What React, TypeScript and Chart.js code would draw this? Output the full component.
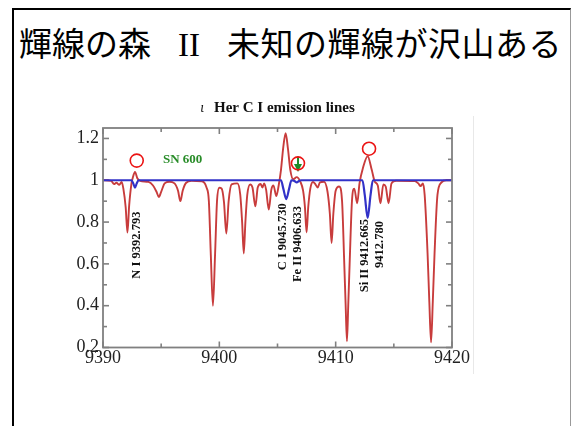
import React, { useEffect, useRef } from 'react';
import { Chart, registerables } from 'chart.js';

Chart.register(...registerables);

// ---- data ----
const slideTitleA = '輝線の森';
const slideTitleB = 'II';
const slideTitleC = '未知の輝線が沢山ある';
const chartTitleGreek = 'ι';
const chartTitle = 'Her C I emission lines';

const xMajorTicks = [9390, 9400, 9410, 9420];
const xMinorTicks = [9395, 9405, 9415];
const yMajorTicks = [0.2, 0.4, 0.6, 0.8, 1.0, 1.2];
const yTickLabels = ['0.2', '0.4', '0.6', '0.8', '1', '1.2'];
const yMinorTicks = [0.3, 0.5, 0.7, 0.9, 1.1];

// observed spectrum (red)
const redWave = [
  9390.0, 9390.7, 9390.95, 9391.15, 9391.4, 9391.6, 9391.75, 9391.95, 9392.1, 9392.25,
  9392.45, 9392.55, 9392.75, 9392.95, 9393.2, 9393.9, 9394.3, 9394.6, 9394.8, 9395.0,
  9395.3, 9395.7, 9396.15, 9396.45, 9396.65, 9396.85, 9397.15, 9397.6, 9398.5, 9398.9,
  9399.1, 9399.27, 9399.45, 9399.63, 9399.8, 9399.98, 9400.2, 9400.4, 9400.6, 9400.8,
  9401.05, 9401.55, 9401.8, 9401.96, 9402.1, 9402.24, 9402.4, 9402.65, 9402.85, 9403.1,
  9403.3, 9403.55, 9403.7, 9403.85, 9404.02, 9404.25, 9404.47, 9404.65, 9404.9, 9405.1,
  9405.3, 9405.5, 9405.7, 9405.9, 9406.1, 9406.35, 9406.65, 9406.95, 9407.2, 9407.36,
  9407.5, 9407.64, 9407.82, 9408.05, 9408.25, 9408.45, 9408.65, 9409.0, 9409.3, 9409.5,
  9409.65, 9409.8, 9410.0, 9410.3, 9410.55, 9410.74, 9410.86, 9410.97, 9411.08, 9411.2,
  9411.4, 9411.6, 9411.85, 9412.05, 9412.35, 9412.75, 9413.1, 9413.35, 9413.62, 9413.85,
  9414.1, 9414.3, 9414.55, 9414.8, 9415.2, 9416.8, 9417.1, 9417.3, 9417.5, 9417.65,
  9417.9, 9418.05, 9418.2, 9418.35, 9418.5, 9418.75, 9419.1, 9419.5, 9420.0,
];
const redFlux = [
  1.0, 0.997, 0.982, 0.988, 0.978, 0.992, 0.96, 0.87, 0.75, 0.88,
  0.985, 1.01, 1.04, 1.01, 0.997, 0.992, 0.975, 0.945, 0.92, 0.945,
  0.985, 0.993, 0.985, 0.95, 0.9, 0.95, 0.988, 0.997, 0.995, 0.965,
  0.9, 0.64, 0.4, 0.64, 0.9, 0.965, 0.96, 0.895, 0.745, 0.9,
  0.98, 0.985, 0.93, 0.8, 0.65, 0.8, 0.93, 0.98, 0.965, 0.875,
  0.965, 0.982, 0.965, 0.985, 0.955, 0.86, 0.955, 0.975, 0.925, 0.975,
  1.05, 1.16, 1.225, 1.15, 1.05, 1.005, 1.015, 0.995, 0.95, 0.87,
  0.75, 0.87, 0.96, 0.992, 0.982, 0.965, 0.99, 0.993, 0.945, 0.84,
  0.7, 0.84, 0.95, 0.97, 0.9, 0.6, 0.4, 0.23, 0.4, 0.6,
  0.9, 0.96, 0.89, 0.985, 1.06, 1.115, 1.05, 0.995, 0.975, 0.89,
  0.98, 0.97, 0.89, 0.985, 0.998, 0.996, 0.985, 0.972, 0.985, 0.93,
  0.65, 0.42, 0.225, 0.42, 0.65, 0.93, 0.99, 1.0, 1.0,
];

// model (blue)
const blueWave = [
  9390.0, 9392.45, 9392.6, 9392.75, 9392.9, 9393.05, 9405.3, 9405.5, 9405.75, 9406.0,
  9406.2, 9406.45, 9406.65, 9406.85, 9407.05, 9412.3, 9412.5, 9412.75, 9413.0, 9413.2, 9420.0,
];
const blueFlux = [
  1.0, 1.0, 0.985, 0.965, 0.985, 1.0, 1.0, 0.96, 0.91, 0.96,
  1.0, 0.997, 0.99, 0.997, 1.0, 1.0, 0.93, 0.82, 0.93, 1.0, 1.0,
];

// annotations (data coordinates)
const circleWave = [9392.9, 9406.76, 9412.87];
const circleFlux = [1.094, 1.081, 1.151];
const lineLabels = ['N I 9392.793', 'C I 9045.730', 'Fe II 9406.633', 'Si II 9412.665', '9412.780'];
const lineLabelWave = [9392.93, 9405.49, 9406.7, 9412.46, 9413.8];
const lineLabelTop = [0.85, 0.89, 0.877, 0.815, 0.805];
const snLabel = 'SN 600';
const snWave = 9395.15;
const snFlux = 1.097;
const arrowWave = 9406.76;
const arrowFrom = 1.113;
const arrowTo = 1.04;

const W = 573;
const H = 426;

const overlayPlugin = {
  id: 'overlay',
  beforeDatasetsDraw(chart: any) {
    const { ctx, chartArea: a, scales } = chart;
    const x = scales.x;
    const y = scales.y;
    ctx.save();
    ctx.strokeStyle = '#808080';
    ctx.lineWidth = 1.6;
    const seg = (x1: number, y1: number, x2: number, y2: number) => {
      ctx.beginPath();
      ctx.moveTo(x1, y1);
      ctx.lineTo(x2, y2);
      ctx.stroke();
    };
    xMajorTicks.forEach((v) => {
      const p = x.getPixelForValue(v);
      seg(p, a.bottom, p, a.bottom - 6);
      seg(p, a.top, p, a.top + 6);
    });
    xMinorTicks.forEach((v) => {
      const p = x.getPixelForValue(v);
      seg(p, a.bottom, p, a.bottom - 4);
      seg(p, a.top, p, a.top + 4);
    });
    yMajorTicks.forEach((v) => {
      const p = y.getPixelForValue(v);
      seg(a.left, p, a.left + 6, p);
      seg(a.right, p, a.right - 6, p);
    });
    yMinorTicks.forEach((v) => {
      const p = y.getPixelForValue(v);
      seg(a.left, p, a.left + 4, p);
      seg(a.right, p, a.right - 4, p);
    });
    ctx.restore();
  },
  afterDatasetsDraw(chart: any) {
    const { ctx, chartArea: a, scales } = chart;
    const x = scales.x;
    const y = scales.y;
    ctx.save();
    // frame
    ctx.strokeStyle = '#808080';
    ctx.lineWidth = 1.8;
    ctx.strokeRect(a.left, a.top, a.right - a.left, a.bottom - a.top);

    // chart title
    const cx = (a.left + a.right) / 2;
    ctx.fillStyle = '#111';
    ctx.textBaseline = 'alphabetic';
    ctx.font = 'italic 14px "Liberation Serif"';
    const w1 = ctx.measureText(chartTitleGreek).width;
    ctx.font = 'bold 15px "Liberation Serif"';
    const w2 = ctx.measureText(chartTitle).width;
    const gap = 10;
    const start = cx - (w1 + gap + w2) / 2;
    ctx.font = 'italic 14px "Liberation Serif"';
    ctx.textAlign = 'left';
    ctx.fillText(chartTitleGreek, start, 112);
    ctx.font = 'bold 15px "Liberation Serif"';
    ctx.fillText(chartTitle, start + w1 + gap, 112);

    // SN label
    ctx.fillStyle = 'rgb(40,140,40)';
    ctx.font = 'bold 13px "Liberation Serif"';
    ctx.textBaseline = 'middle';
    ctx.fillText(snLabel, x.getPixelForValue(snWave), y.getPixelForValue(snFlux));

    // rotated line labels
    ctx.fillStyle = '#111';
    ctx.font = 'bold 12.5px "Liberation Serif"';
    lineLabels.forEach((t, i) => {
      ctx.save();
      ctx.translate(x.getPixelForValue(lineLabelWave[i]), y.getPixelForValue(lineLabelTop[i]));
      ctx.rotate(-Math.PI / 2);
      ctx.textAlign = 'right';
      ctx.textBaseline = 'middle';
      ctx.fillText(t, 0, 0);
      ctx.restore();
    });

    // green arrow
    const ax = x.getPixelForValue(arrowWave);
    const ay1 = y.getPixelForValue(arrowFrom);
    const ay2 = y.getPixelForValue(arrowTo);
    ctx.strokeStyle = 'rgb(30,140,40)';
    ctx.fillStyle = 'rgb(30,140,40)';
    ctx.lineWidth = 2;
    ctx.beginPath();
    ctx.moveTo(ax, ay1);
    ctx.lineTo(ax, ay2 - 5);
    ctx.stroke();
    ctx.beginPath();
    ctx.moveTo(ax - 4, ay2 - 8);
    ctx.lineTo(ax + 4, ay2 - 8);
    ctx.lineTo(ax, ay2);
    ctx.closePath();
    ctx.fill();

    // red circles
    ctx.strokeStyle = 'rgb(235,20,20)';
    ctx.lineWidth = 1.6;
    circleWave.forEach((w, i) => {
      ctx.beginPath();
      ctx.arc(x.getPixelForValue(w), y.getPixelForValue(circleFlux[i]), 6.5, 0, Math.PI * 2);
      ctx.stroke();
    });
    ctx.restore();
  },
};

function SpectrumChart() {
  const ref = useRef<HTMLCanvasElement | null>(null);
  useEffect(() => {
    if (!ref.current) return;
    const chart = new Chart(ref.current, {
      type: 'line',
      data: {
        datasets: [
          {
            label: 'model',
            data: blueWave.map((w, i) => ({ x: w, y: blueFlux[i] })),
            borderColor: 'rgb(50,50,200)',
            borderWidth: 2.2,
            pointRadius: 0,
            cubicInterpolationMode: 'monotone',
          },
          {
            label: 'observed',
            data: redWave.map((w, i) => ({ x: w, y: redFlux[i] })),
            borderColor: 'rgb(200,60,60)',
            borderWidth: 1.9,
            pointRadius: 0,
            cubicInterpolationMode: 'monotone',
          },
        ],
      },
      options: {
        responsive: false,
        animation: false,
        devicePixelRatio: 1,
        layout: { padding: { top: 128, right: 121, left: 0, bottom: 0 } },
        plugins: { legend: { display: false }, tooltip: { enabled: false }, title: { display: false } },
        scales: {
          x: {
            type: 'linear',
            min: 9390,
            max: 9420,
            grid: { display: false, drawTicks: false },
            border: { display: false },
            afterBuildTicks: (s: any) => {
              s.ticks = xMajorTicks.map((v) => ({ value: v }));
            },
            afterFit: (s: any) => {
              s.height = H - 347.5;
            },
            ticks: {
              padding: 0,
              color: '#222',
              maxRotation: 0,
              font: { family: '"Liberation Serif"', size: 18 },
              callback: (v: any) => String(v),
            },
          },
          y: {
            type: 'linear',
            min: 0.2,
            max: 1.25,
            grid: { display: false, drawTicks: false },
            border: { display: false },
            afterBuildTicks: (s: any) => {
              s.ticks = yMajorTicks.map((v) => ({ value: v }));
            },
            afterFit: (s: any) => {
              s.width = 103;
            },
            ticks: {
              padding: 4,
              color: '#222',
              font: { family: '"Liberation Serif"', size: 18 },
              callback: (v: any) => {
                const i = yMajorTicks.findIndex((t) => Math.abs(t - v) < 1e-6);
                return i >= 0 ? yTickLabels[i] : '';
              },
            },
          },
        },
      },
      plugins: [overlayPlugin],
    } as any);
    return () => chart.destroy();
  }, []);
  return (
    <canvas
      ref={ref}
      width={W}
      height={H}
      style={{ position: 'absolute', left: 0, top: 0, width: W, height: H, zIndex: 2 }}
    />
  );
}

export default function App() {
  return (
    <div style={{ position: 'absolute', left: 0, top: 0, width: W, height: H, background: '#fff', overflow: 'hidden' }}>
      <div
        style={{
          position: 'absolute',
          left: 12,
          top: 8,
          width: 556,
          height: 440,
          borderLeft: '2px solid #000',
          borderTop: '2px solid #000',
          borderRight: '1px solid #999',
        }}
      />
      <div style={{ position: 'absolute', left: 473, top: 116, width: 1, height: 258, background: '#e8e8e8' }} />
      <div
        style={{
          position: 'absolute',
          left: 19,
          top: 24,
          whiteSpace: 'pre',
          fontFamily: '"Noto Sans CJK JP", sans-serif',
          fontSize: 33,
          lineHeight: '36px',
          color: '#000',
        }}
      >
        <span>{slideTitleA}</span>
        <span style={{ fontFamily: '"Liberation Serif", serif', marginLeft: 27 }}>{slideTitleB}</span>
        <span style={{ marginLeft: 27, letterSpacing: 0.5 }}>{slideTitleC}</span>
      </div>
      <SpectrumChart />
    </div>
  );
}
